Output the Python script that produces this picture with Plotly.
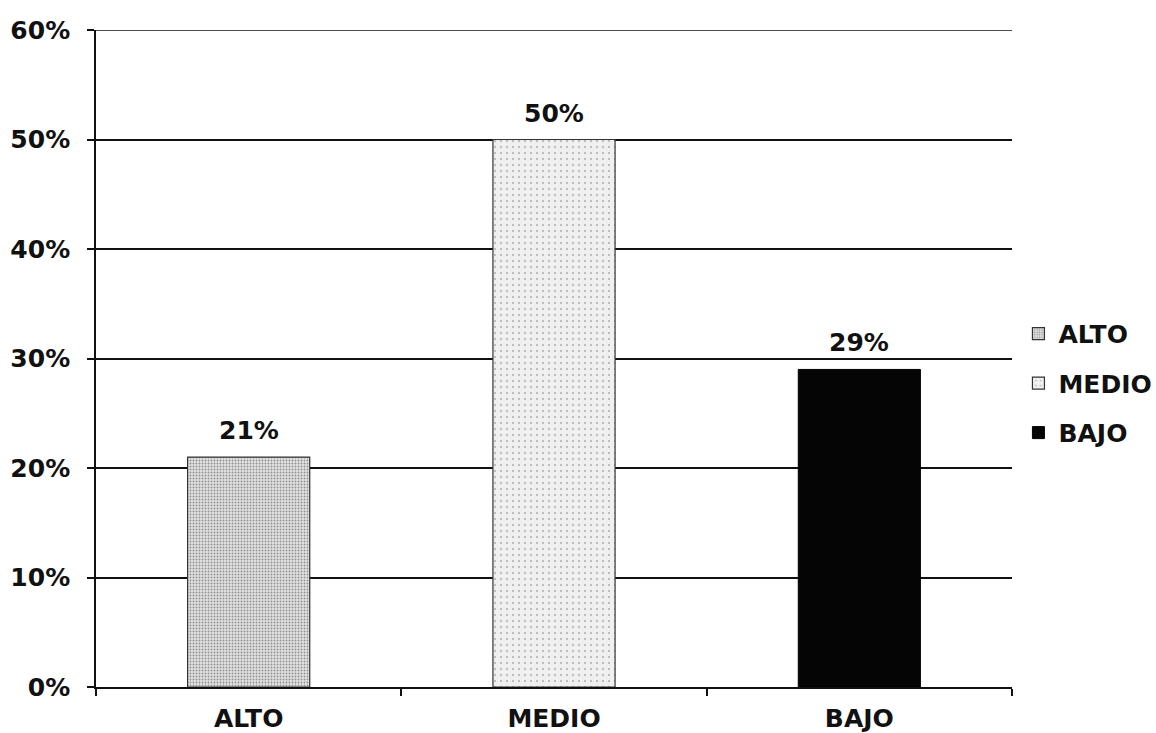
import plotly.graph_objects as go

# Nivel de conocimiento: porcentaje por categoría
categorias = ["ALTO", "MEDIO", "BAJO"]
porcentajes = [0.21, 0.50, 0.29]
ticks_y = [0, 0.1, 0.2, 0.3, 0.4, 0.5, 0.6]
etiquetas_y = ["0%", "10%", "20%", "30%", "40%", "50%", "60%"]

FONT = "DejaVu Sans, Arial, sans-serif"
NEGRO = "#111111"
TAM = 25

estilos = {
    "ALTO": dict(color="#dcdcdc",
                 pattern=dict(shape=".", fgcolor="#3c3c3c", bgcolor="#e2e2e2",
                              size=3, solidity=0.3),
                 line=dict(color="#333333", width=1.2)),
    "MEDIO": dict(color="#f0f0f0",
                  pattern=dict(shape=".", fgcolor="#8a8a8a", bgcolor="#f0f0f0",
                               size=6, solidity=0.12),
                  line=dict(color="#333333", width=1.2)),
    "BAJO": dict(color="#050505", line=dict(color="#000000", width=1)),
}

fig = go.Figure()
for cat, val in zip(categorias, porcentajes):
    fig.add_trace(go.Bar(
        x=[cat], y=[val], name=f"<b>{cat}</b>", width=0.4,
        marker=estilos[cat], legendgroup=cat,
    ))
    fig.add_annotation(
        x=cat, y=val, text=f"<b>{round(val * 100)}%</b>",
        showarrow=False, yanchor="bottom", yshift=10,
        font=dict(family=FONT, size=TAM, color=NEGRO),
    )

# línea superior de la cuadrícula (60%)
fig.add_shape(type="line", xref="paper", yref="y",
              x0=-0.008, x1=1, y0=ticks_y[-1], y1=ticks_y[-1],
              line=dict(color=NEGRO, width=1.6))

fig.update_layout(
    width=1156, height=733,
    margin=dict(l=96, r=144, t=30, b=46),
    paper_bgcolor="white", plot_bgcolor="white",
    barmode="overlay",
    font=dict(family=FONT, size=TAM, color=NEGRO),
    legend=dict(
        xref="container", yref="container",
        x=0.881, xanchor="left", y=0.477, yanchor="middle",
        font=dict(family=FONT, size=TAM, color=NEGRO),
        tracegroupgap=14, itemwidth=30,
        bgcolor="rgba(0,0,0,0)",
    ),
    xaxis=dict(
        type="category", categoryorder="array", categoryarray=categorias,
        range=[-0.5, 2.5], automargin=False,
        showline=True, linecolor=NEGRO, linewidth=1.6,
        ticks="outside", tickson="boundaries", ticklen=7,
        tickcolor=NEGRO, tickwidth=1.6, ticklabelstandoff=8,
        tickvals=categorias, ticktext=[f"<b>{c}</b>" for c in categorias],
        tickfont=dict(family=FONT, size=TAM, color=NEGRO),
        showgrid=False,
    ),
    yaxis=dict(
        range=[0, 0.6], tickvals=ticks_y, automargin=False,
        ticktext=[f"<b>{t}</b>" for t in etiquetas_y],
        showline=True, linecolor=NEGRO, linewidth=1.6,
        ticks="outside", ticklen=7, tickcolor=NEGRO, tickwidth=1.6,
        ticklabelstandoff=12,
        showgrid=True, gridcolor=NEGRO, gridwidth=1.6,
        tickfont=dict(family=FONT, size=TAM, color=NEGRO),
        zeroline=False,
    ),
)

fig.write_html("out.html")
